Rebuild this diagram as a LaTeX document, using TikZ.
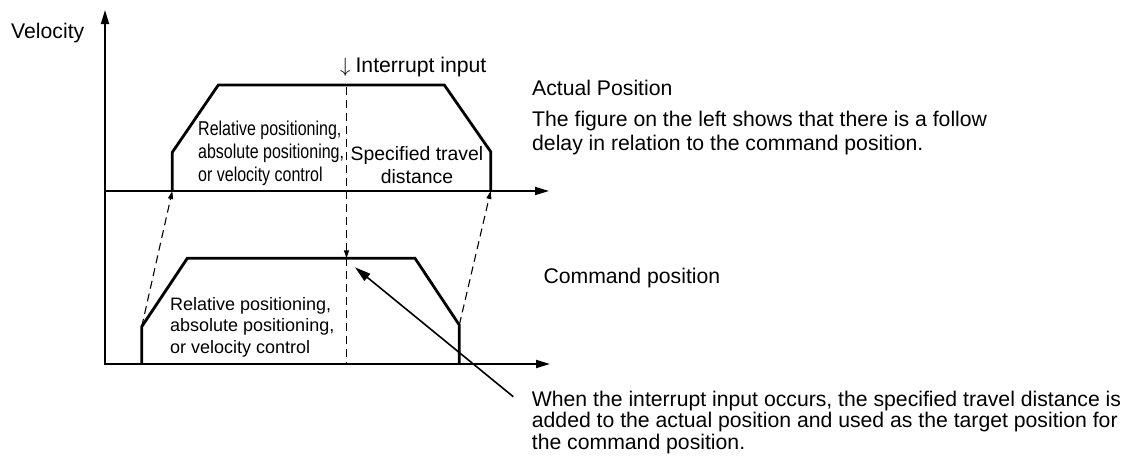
\documentclass[tikz,border=0pt]{standalone}
\usepackage{fontspec}
\setmainfont{Liberation Sans}
\newfontfamily\narrowfont[FakeStretch=0.8]{Liberation Sans}
\usetikzlibrary{arrows.meta,positioning,calc}

\begin{document}
\begin{tikzpicture}[
  x=1pt,y=-1pt,
  axis/.style={line width=1.8pt},
  tip/.style={-{Triangle[length=14pt,width=8pt]}},
  profile/.style={line width=2.8pt,line join=miter},
  guide/.style={line width=1.1pt,dash pattern=on 8pt off 5pt,-{Triangle[length=8pt,width=5pt]}},
  pointer/.style={line width=1.6pt,-{Triangle[length=16pt,width=9pt]}},
  lbl/.style={anchor=base west,inner sep=0pt,align=left,font=\fontsize{21.2}{24}\selectfont}
]
  \useasboundingbox (0,0) rectangle (1135,461);

  \coordinate (ytop) at (105,10);
  \coordinate (orgA) at (105,191);
  \coordinate (orgC) at (105,364);
  \coordinate (endA) at (549,191);
  \coordinate (endC) at (550,364);

  \coordinate (a0) at (172.3,191);
  \coordinate (a1) at (172.3,152.3);
  \coordinate (a2) at (218.3,85);
  \coordinate (a3) at (444.3,85);
  \coordinate (a4) at (490.7,151.7);
  \coordinate (a5) at (490.7,191);

  \coordinate (c0) at (141.7,364);
  \coordinate (c1) at (141.7,326.7);
  \coordinate (c2) at (187.3,258.3);
  \coordinate (c3) at (415,258.3);
  \coordinate (c4) at (459.3,325);
  \coordinate (c5) at (459.3,364);

  \coordinate (intA) at (346.5,87);
  \coordinate (intC) at (346.5,258.3);
  \coordinate (intD) at (346.5,364);
  \coordinate (ptrtail) at (513.3,396.7);
  \coordinate (ptrtip) at (355,267.3);

  \draw[axis,{Triangle[length=14pt,width=8pt]}-{Triangle[length=14pt,width=8pt]}] (ytop) -- (orgC) -- (endC);
  \draw[axis,tip] (orgA) -- (endA);

  \draw[profile] (a0) -- (a1) -- (a2) -- (a3) -- (a4) -- (a5);
  \draw[profile] (c0) -- (c1) -- (c2) -- (c3) -- (c4) -- (c5);

  \draw[guide] (intA) -- (intC);
  \draw[guide,-] (intC) -- (intD);
  \draw[guide] (c1) -- (a0);
  \draw[guide] (c4) -- (a5);
  \draw[pointer] (ptrtail) -- (ptrtip);

  \node[lbl] (vel) at (11,38) {Velocity};
  \node[lbl] (intr) at (340,72.7) {$\downarrow$\kern5pt Interrupt input};
  \node[lbl,font=\narrowfont\fontsize{20}{23.3}\selectfont] (actmode) at (198,181.7)
    {Relative positioning,\\absolute positioning,\\or velocity control};
  \node[anchor=base,inner sep=0pt,align=center,font=\fontsize{19.4}{23.3}\selectfont] (spec) at (417,183.3)
    {Specified travel\\distance};
  \node[lbl,font=\fontsize{18}{21.6}\selectfont] (cmdmode) at (170,353.3)
    {Relative positioning,\\absolute positioning,\\or velocity control};

  \node[lbl] (act) at (532,95.7) {Actual Position};
  \node[lbl] (follow) at (532,150.7)
    {The figure on the left shows that there is a follow\\delay in relation to the command position.};
  \node[lbl] (cmd) at (543.3,283.3) {Command position};
  \node[lbl,font=\fontsize{21.2}{21.5}\selectfont] (note) at (531.7,449.3)
    {When the interrupt input occurs, the specified travel distance is\\added to the actual position and used as the target position for\\the command position.};
\end{tikzpicture}
\end{document}
